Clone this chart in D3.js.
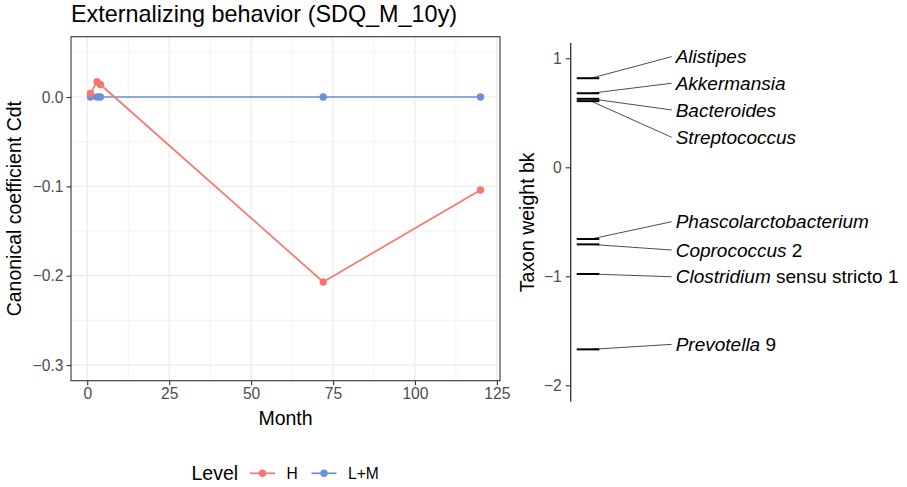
<!DOCTYPE html>
<html>
<head>
<meta charset="utf-8">
<script src="https://cdn.jsdelivr.net/npm/d3@7"></script>
<style>
  body { margin: 0; background: #fff; }
  text { font-family: "Liberation Sans", Arial, Helvetica, sans-serif; }
</style>
</head>
<body>
<script>

// Data
var months = [1, 3, 4, 72, 120];
var cdtH = [0.004, 0.017, 0.014, -0.207, -0.104];
var cdtLM = [0, 0, 0, 0, 0];
var levels = ["H", "L+M"];
var levelColors = ["#F8766D", "#6892D5"];

var xTicks = [0, 25, 50, 75, 100, 125];
var yTicks = [0, -0.1, -0.2, -0.3];
var yMinor = [0.05, -0.05, -0.15, -0.25];
var xMinor = [12.5, 37.5, 62.5, 87.5, 112.5];

var taxaGenus = ["Alistipes", "Akkermansia", "Bacteroides", "Streptococcus",
                 "Phascolarctobacterium", "Coprococcus", "Clostridium", "Prevotella"];
var taxaSuffix = ["", "", "", "", "", " 2", " sensu stricto 1", " 9"];
var taxaWeight = [0.817, 0.679, 0.628, 0.607, -0.658, -0.707, -0.979, -1.67];
var taxaLabelY = [1.015, 0.771, 0.526, 0.275, -0.499, -0.759, -1.004, -1.624];
var bkTicks = [1, 0, -1, -2];

var w = 907, h = 487;

var svg = d3.select("body")
            .append("svg")
            .attr("width", w)
            .attr("height", h);

// ---------- left panel ----------
var panel = {left: 71, right: 500, top: 36.7, bottom: 380.7};

var xScale = d3.scaleLinear()
               .domain([-4.95, 125.95])
               .range([panel.left, panel.right]);

var yScale = d3.scaleLinear()
               .domain([-0.3175, 0.0675])
               .range([panel.bottom, panel.top]);

// minor grid
svg.selectAll(".gminx")
   .data(xMinor).enter()
   .append("line")
   .attr("x1", d => xScale(d)).attr("x2", d => xScale(d))
   .attr("y1", panel.top).attr("y2", panel.bottom)
   .attr("stroke", "#EBEBEB").attr("stroke-width", 0.6);

svg.selectAll(".gminy")
   .data(yMinor).enter()
   .append("line")
   .attr("x1", panel.left).attr("x2", panel.right)
   .attr("y1", d => yScale(d)).attr("y2", d => yScale(d))
   .attr("stroke", "#EBEBEB").attr("stroke-width", 0.6);

// major grid
svg.selectAll(".gmajx")
   .data(xTicks).enter()
   .append("line")
   .attr("x1", d => xScale(d)).attr("x2", d => xScale(d))
   .attr("y1", panel.top).attr("y2", panel.bottom)
   .attr("stroke", "#EBEBEB").attr("stroke-width", 1.2);

svg.selectAll(".gmajy")
   .data(yTicks).enter()
   .append("line")
   .attr("x1", panel.left).attr("x2", panel.right)
   .attr("y1", d => yScale(d)).attr("y2", d => yScale(d))
   .attr("stroke", "#EBEBEB").attr("stroke-width", 1.2);

// series, L+M first so H sits on top
var series = [
  {level: levels[1], color: levelColors[1], values: cdtLM},
  {level: levels[0], color: levelColors[0], values: cdtH}
];

var line = d3.line()
             .x((d, i) => xScale(months[i]))
             .y(d => yScale(d));

series.forEach(function(s){
  svg.append("path")
     .attr("d", line(s.values))
     .attr("fill", "none")
     .attr("stroke", s.color)
     .attr("stroke-width", 1.7);
});

series.forEach(function(s){
  svg.selectAll(null)
     .data(s.values).enter()
     .append("circle")
     .attr("cx", (d, i) => xScale(months[i]))
     .attr("cy", d => yScale(d))
     .attr("r", 3.7)
     .attr("fill", s.color);
});

// panel border
svg.append("rect")
   .attr("x", panel.left).attr("y", panel.top)
   .attr("width", panel.right - panel.left)
   .attr("height", panel.bottom - panel.top)
   .attr("fill", "none")
   .attr("stroke", "#333333")
   .attr("stroke-width", 1.1);

// axes
var xAxis = svg.append("g")
               .attr("transform", `translate(0, ${panel.bottom})`)
               .call(d3.axisBottom(xScale).tickValues(xTicks).tickSize(4.5).tickPadding(3));

var yAxis = svg.append("g")
               .attr("transform", `translate(${panel.left}, 0)`)
               .call(d3.axisLeft(yScale).tickValues(yTicks).tickSize(4.5).tickPadding(3)
                       .tickFormat(d => d3.format(".1f")(d).replace("-", "\u2212")));

[xAxis, yAxis].forEach(function(a){
  a.select(".domain").remove();
  a.selectAll("line").attr("stroke", "#333333").attr("stroke-width", 1.1);
  a.selectAll("text")
   .attr("fill", "#4D4D4D")
   .style("font-size", "15.6px")
   .style("font-family", "'Liberation Sans', Arial, sans-serif");
});

// title and axis titles
svg.append("text")
   .attr("x", panel.left)
   .attr("y", 21.7)
   .style("font-size", "23.4px")
   .text("Externalizing behavior (SDQ_M_10y)");

svg.append("text")
   .attr("x", (panel.left + panel.right) / 2)
   .attr("y", 425)
   .attr("text-anchor", "middle")
   .style("font-size", "19.5px")
   .text("Month");

svg.append("text")
   .attr("transform", `translate(21, ${(panel.top + panel.bottom) / 2}) rotate(-90)`)
   .attr("text-anchor", "middle")
   .style("font-size", "19.5px")
   .text("Canonical coefficient Cdt");

// legend
var legend = svg.append("g");

legend.append("text")
      .attr("x", 191.5)
      .attr("y", 480)
      .style("font-size", "19.5px")
      .text("Level");

var keyX = [250, 311.5];
levels.forEach(function(lv, i){
  legend.append("line")
        .attr("x1", keyX[i]).attr("x2", keyX[i] + 25)
        .attr("y1", 473.3).attr("y2", 473.3)
        .attr("stroke", levelColors[i])
        .attr("stroke-width", 1.7);
  legend.append("circle")
        .attr("cx", keyX[i] + 12.5).attr("cy", 473.3)
        .attr("r", 3.7)
        .attr("fill", levelColors[i]);
  legend.append("text")
        .attr("x", keyX[i] + 36.5)
        .attr("y", 479)
        .style("font-size", "15.6px")
        .text(lv);
});

// ---------- right panel ----------
var rp = {axisX: 570.7, top: 43, bottom: 401.7, segL: 576.7, segR: 599.3, labelX: 675.7};

var bkScale = d3.scaleLinear()
                .domain([-2.15, 1.14])
                .range([rp.bottom, rp.top]);

var bkAxis = svg.append("g")
                .attr("transform", `translate(${rp.axisX}, 0)`)
                .call(d3.axisLeft(bkScale).tickValues(bkTicks).tickSize(5).tickPadding(4)
                        .tickFormat(d => String(d).replace("-", "\u2212")));

bkAxis.select(".domain").remove();
bkAxis.selectAll("line").attr("stroke", "#333333").attr("stroke-width", 1.1);
bkAxis.selectAll("text")
      .attr("fill", "#4D4D4D")
      .style("font-size", "15.6px")
      .style("font-family", "'Liberation Sans', Arial, sans-serif");

svg.append("line")
   .attr("x1", rp.axisX).attr("x2", rp.axisX)
   .attr("y1", rp.top).attr("y2", rp.bottom)
   .attr("stroke", "#333333")
   .attr("stroke-width", 1.3);

svg.append("text")
   .attr("transform", `translate(534, ${(rp.top + rp.bottom) / 2}) rotate(-90)`)
   .attr("text-anchor", "middle")
   .style("font-size", "19.5px")
   .text("Taxon weight bk");

// leader lines
svg.selectAll(".leader")
   .data(taxaWeight).enter()
   .append("line")
   .attr("x1", 591)
   .attr("y1", d => bkScale(d))
   .attr("x2", rp.labelX - 4)
   .attr("y2", (d, i) => bkScale(taxaLabelY[i]))
   .attr("stroke", "#000")
   .attr("stroke-width", 0.7);

// taxon weight segments
svg.selectAll(".seg")
   .data(taxaWeight).enter()
   .append("line")
   .attr("x1", rp.segL).attr("x2", rp.segR)
   .attr("y1", d => bkScale(d)).attr("y2", d => bkScale(d))
   .attr("stroke", "#000")
   .attr("stroke-width", 2);

// taxon labels, genus in italics
var labels = svg.selectAll(".taxon")
                .data(taxaGenus).enter()
                .append("text")
                .attr("x", rp.labelX)
                .attr("y", (d, i) => bkScale(taxaLabelY[i]))
                .attr("dy", "0.35em")
                .style("font-size", "19px");

labels.append("tspan")
      .style("font-style", "italic")
      .text(d => d);

labels.append("tspan")
      .text((d, i) => taxaSuffix[i]);

</script>
</body>
</html>
